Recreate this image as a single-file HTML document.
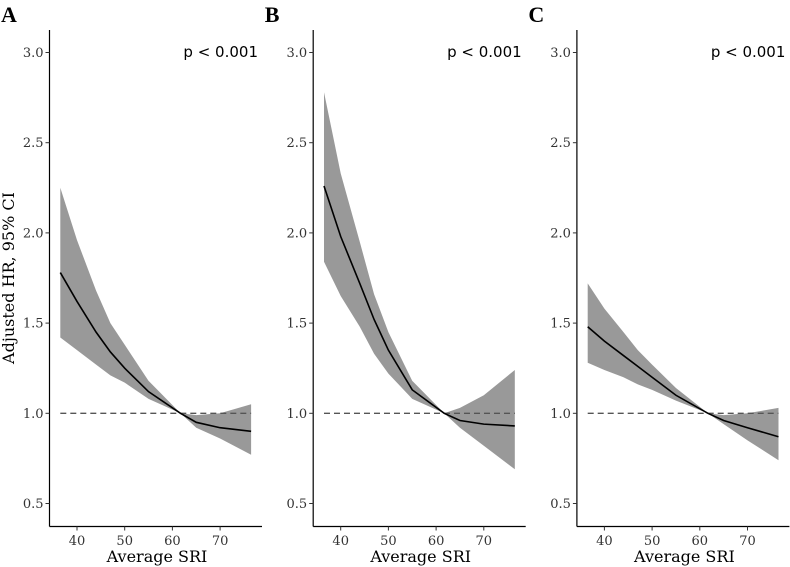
<!DOCTYPE html>
<html><head><meta charset="utf-8"><style>
body{margin:0;background:#fff;}
svg{display:block;}
.tick{font-family:"DejaVu Serif","Liberation Serif",serif;font-size:13px;fill:#333;}
.ttl{font-family:"DejaVu Serif","Liberation Serif",serif;font-size:16px;fill:#000;}
.pl{font-family:"DejaVu Sans","Liberation Sans",sans-serif;font-size:15px;fill:#000;}
.let{font-family:"Liberation Serif",serif;font-weight:bold;font-size:22px;fill:#000;}
</style></head><body>
<svg id="chart" width="790" height="567">
<text class="ttl" transform="translate(14,278) rotate(-90)" text-anchor="middle">Adjusted HR, 95% CI</text>
</svg>
<script>
const sri=[36.5,40,44,47,50,55,61.7,65,70,76.5];
const meanA=[1.78,1.62,1.45,1.34,1.25,1.12,1.0,0.95,0.92,0.90];
const upA=[2.25,1.96,1.68,1.50,1.38,1.18,1.0,0.99,1.0,1.05];
const loA=[1.42,1.35,1.27,1.21,1.17,1.08,1.0,0.92,0.86,0.77];
const meanB=[2.26,1.98,1.72,1.52,1.35,1.13,1.0,0.96,0.94,0.93];
const upB=[2.78,2.33,1.95,1.66,1.45,1.18,1.0,1.03,1.10,1.24];
const loB=[1.84,1.65,1.48,1.33,1.22,1.08,1.0,0.92,0.82,0.69];
const meanC=[1.48,1.40,1.32,1.26,1.20,1.10,1.0,0.96,0.92,0.87];
const upC=[1.72,1.58,1.45,1.35,1.27,1.14,1.0,0.99,1.0,1.03];
const loC=[1.28,1.24,1.20,1.16,1.13,1.07,1.0,0.94,0.85,0.74];
const yTicks=[0.5,1.0,1.5,2.0,2.5,3.0];
const xTicks=[40,50,60,70];
const panels=[["A",meanA,upA,loA],["B",meanB,upB,loB],["C",meanC,upC,loC]];
const NS="http://www.w3.org/2000/svg";
const svg=document.getElementById('chart');
function mk(t,a,p){const e=document.createElementNS(NS,t);for(const k in a)e.setAttribute(k,a[k]);(p||svg).appendChild(e);return e;}
function yS(v){return 413.3-(v-1)*180.4;}
panels.forEach((pd,i)=>{
  const off=i*263.7, ax=49.5+off;
  const xS=v=>77+off+(v-40)*4.77;
  const g=mk('g',{});
  
  
  const lt=mk('text',{x:off+1,y:22,class:'let'},g);lt.textContent=pd[0];
  
  
  const [_,m,u,l]=pd;
  let d='';
  sri.forEach((s,k)=>{d+=(k?'L':'M')+xS(s)+','+yS(u[k]);});
  for(let k=sri.length-1;k>=0;k--)d+='L'+xS(sri[k])+','+yS(l[k]);
  const band=mk('path',{d:d+'Z',fill:'#999'},g);
  
  
  const ref=mk('line',{x1:xS(36.5),x2:xS(76.5),y1:yS(1),y2:yS(1),stroke:'#555','stroke-width':1.3,'stroke-dasharray':'6,4'},g);
  
  
  const ln=mk('polyline',{points:sri.map((s,k)=>xS(s)+','+yS(m[k])).join(' '),fill:'none',stroke:'#000','stroke-width':1.6},g);
  
  
  const yax=mk('line',{x1:ax,x2:ax,y1:30,y2:526.5,stroke:'#000','stroke-width':1.2},g);
  
  
  const xax=mk('line',{x1:ax,x2:262+off,y1:526.5,y2:526.5,stroke:'#000','stroke-width':1.2},g);
  
  
  yTicks.forEach(v=>{
    mk('line',{x1:ax-4,x2:ax,y1:yS(v),y2:yS(v),stroke:'#333'},g);
    const t=mk('text',{x:ax-6,y:yS(v)+4.5,class:'tick','text-anchor':'end'},g);t.textContent=v.toFixed(1);
    
    
  });
  xTicks.forEach(v=>{
    mk('line',{x1:xS(v),x2:xS(v),y1:526.5,y2:530.5,stroke:'#333'},g);
    const t=mk('text',{x:xS(v),y:545,class:'tick','text-anchor':'middle'},g);t.textContent=v;
    
    
  });
  const xt=mk('text',{x:157+off,y:562,class:'ttl','text-anchor':'middle'},g);xt.textContent='Average SRI';
  
  
  const p=mk('text',{x:258+off,y:57,class:'pl','text-anchor':'end'},g);p.textContent='p < 0.001';
  
  
});
</script>
</body></html>
